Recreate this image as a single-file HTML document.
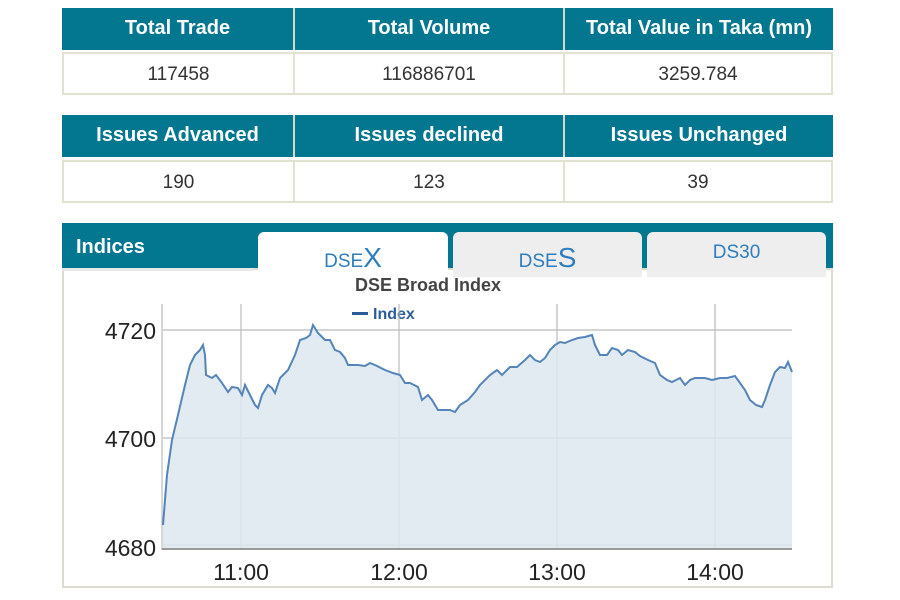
<!DOCTYPE html>
<html><head><style>
body{margin:0;width:900px;height:600px;background:#fff;font-family:"Liberation Sans",sans-serif;position:relative;overflow:hidden}
.c{position:absolute;text-align:center;box-sizing:border-box}
.h{background:#037690;color:#fff;font-weight:bold;font-size:20px;height:42px;line-height:40px;border-right:2px solid #d8d8c8}
.v{background:#fff;color:#333;font-size:19px;height:43px;line-height:41px;border:2px solid #e2e2d0;border-left:none}
</style></head><body>
<div class="c h" style="left:62px;top:8px;width:233px">Total Trade</div>
<div class="c h" style="left:295px;top:8px;width:270px">Total Volume</div>
<div class="c h" style="left:565px;top:8px;width:268px;border-right:none">Total Value in Taka (mn)</div>
<div class="c v" style="left:62px;top:52px;width:233px;border-left:2px solid #e2e2d0">117458</div>
<div class="c v" style="left:295px;top:52px;width:270px">116886701</div>
<div class="c v" style="left:565px;top:52px;width:268px">3259.784</div>
<div class="c h" style="left:62px;top:115px;width:233px">Issues Advanced</div>
<div class="c h" style="left:295px;top:115px;width:270px">Issues declined</div>
<div class="c h" style="left:565px;top:115px;width:268px;border-right:none">Issues Unchanged</div>
<div class="c v" style="left:62px;top:160px;width:233px;border-left:2px solid #e2e2d0">190</div>
<div class="c v" style="left:295px;top:160px;width:270px">123</div>
<div class="c v" style="left:565px;top:160px;width:268px">39</div>
<div style="position:absolute;left:62px;top:223px;width:771px;height:48px;background:#037690"></div>
<div style="position:absolute;left:62px;top:268px;width:771px;height:320px;border:2px solid #dcdcd0;box-sizing:border-box;background:#fff"></div>
<div style="position:absolute;left:62px;top:268px;width:192px;height:3px;background:#e8e8e8"></div>
<div style="position:absolute;left:76px;top:236px;color:#fff;font-weight:bold;font-size:20px">Indices</div>
<div class="c" style="left:258px;top:232px;width:190px;height:50px;background:#fff;border-radius:6px 6px 0 0;color:#2f7fc0;font-size:19px;padding-top:10px">DSE<span style="font-size:28px">X</span></div>
<div class="c" style="left:453px;top:232px;width:189px;height:45px;background:#eeeeee;border-radius:6px 6px 0 0;color:#2f7fc0;font-size:19px;padding-top:10px">DSE<span style="font-size:28px">S</span></div>
<div class="c" style="left:647px;top:232px;width:179px;height:45px;background:#eeeeee;border-radius:6px 6px 0 0;color:#2f7fc0;font-size:19px;padding-top:10px">DS30</div>
<svg style="position:absolute;left:0;top:0" width="900" height="600">
<text x="428" y="291" text-anchor="middle" font-family="Liberation Sans" font-weight="bold" font-size="18" fill="#444">DSE Broad Index</text>
<rect x="352" y="312" width="16" height="3" fill="#2c5d9a"/>
<text x="373" y="319" font-family="Liberation Sans" font-weight="bold" font-size="16" fill="#2c5d9a">Index</text>
<g stroke="#bbb" stroke-width="1.2">
<line x1="163" y1="330" x2="792" y2="330"/><line x1="163" y1="438" x2="792" y2="438"/><line x1="163" y1="545" x2="792" y2="545"/>
<line x1="241" y1="304" x2="241" y2="550"/><line x1="399" y1="304" x2="399" y2="550"/><line x1="557" y1="304" x2="557" y2="550"/><line x1="715" y1="304" x2="715" y2="550"/>
<line x1="162" y1="304" x2="162" y2="550"/>
</g>
<polygon fill="#dde6f0" fill-opacity="0.85" points="163,548 163,525 167,475 172,440 178,415 185,385 190,365 195,355 200,350 203,345 205,355 206,375 212,378 216,375 222,383 228,392 232,387 238,388 242,395 245,385 250,395 255,405 258,408 262,395 268,385 272,388 275,393 280,378 288,370 295,355 300,340 306,338 310,335 313,325 318,333 325,340 330,340 335,350 340,352 345,358 348,365 353,365 358,365 365,366 370,363 375,365 385,370 393,373 400,375 405,383 410,383 418,387 422,400 428,395 432,400 438,410 445,410 450,410 455,412 460,405 468,400 475,392 480,385 490,375 497,370 502,375 510,367 517,367 525,360 530,355 535,360 540,362 545,358 550,350 555,345 560,342 565,343 572,340 578,338 585,337 592,335 595,345 600,355 607,355 612,348 618,350 622,355 628,350 635,352 640,356 648,360 655,363 660,375 667,380 672,382 680,378 685,385 690,380 695,378 705,378 712,380 720,378 727,378 735,376 740,383 745,390 750,400 756,405 762,407 765,400 770,385 775,372 780,367 785,368 788,362 792,372 792,548"/>
<polyline fill="none" stroke="#5584b8" stroke-width="2" points="163,525 167,475 172,440 178,415 185,385 190,365 195,355 200,350 203,345 205,355 206,375 212,378 216,375 222,383 228,392 232,387 238,388 242,395 245,385 250,395 255,405 258,408 262,395 268,385 272,388 275,393 280,378 288,370 295,355 300,340 306,338 310,335 313,325 318,333 325,340 330,340 335,350 340,352 345,358 348,365 353,365 358,365 365,366 370,363 375,365 385,370 393,373 400,375 405,383 410,383 418,387 422,400 428,395 432,400 438,410 445,410 450,410 455,412 460,405 468,400 475,392 480,385 490,375 497,370 502,375 510,367 517,367 525,360 530,355 535,360 540,362 545,358 550,350 555,345 560,342 565,343 572,340 578,338 585,337 592,335 595,345 600,355 607,355 612,348 618,350 622,355 628,350 635,352 640,356 648,360 655,363 660,375 667,380 672,382 680,378 685,385 690,380 695,378 705,378 712,380 720,378 727,378 735,376 740,383 745,390 750,400 756,405 762,407 765,400 770,385 775,372 780,367 785,368 788,362 792,372"/>
<line x1="162" y1="549" x2="792" y2="549" stroke="#999" stroke-width="2"/>
<g font-family="Liberation Sans" font-size="23" fill="#222">
<text x="156" y="339" text-anchor="end">4720</text>
<text x="156" y="447" text-anchor="end">4700</text>
<text x="156" y="556" text-anchor="end">4680</text>
<text x="241" y="580" text-anchor="middle">11:00</text>
<text x="399" y="580" text-anchor="middle">12:00</text>
<text x="557" y="580" text-anchor="middle">13:00</text>
<text x="715" y="580" text-anchor="middle">14:00</text>
</g>
</svg>
</body></html>
